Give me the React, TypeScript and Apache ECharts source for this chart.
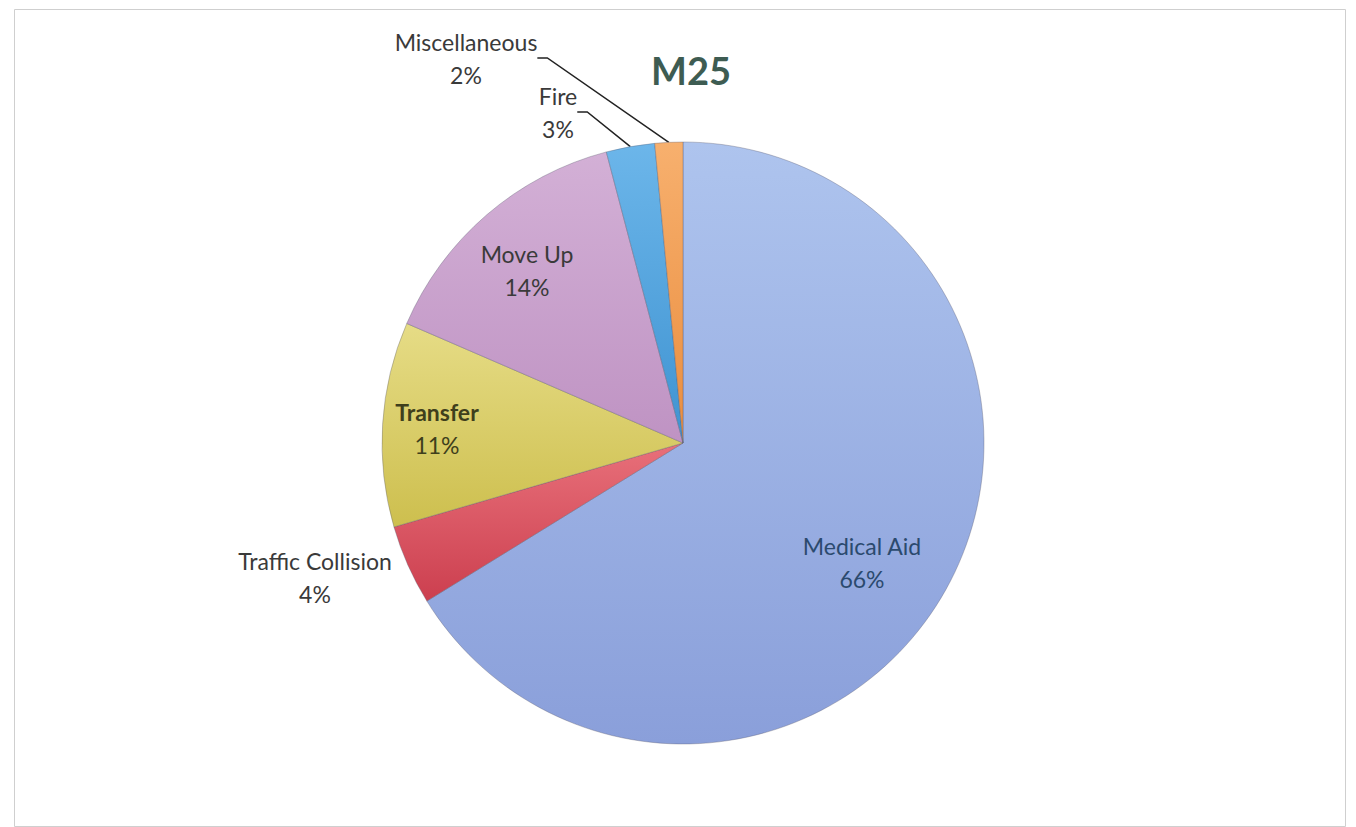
import React, { useEffect, useRef } from "react";
import * as echarts from "echarts";

const categories = ["Medical Aid", "Traffic Collision", "Transfer", "Move Up", "Fire", "Miscellaneous"];
const values = [66.2, 4.3, 11.0, 14.4, 2.6, 1.5];
const percentLabels = ["66%", "4%", "11%", "14%", "3%", "2%"];
const titleText = "M25";

const colorStops: [string, string][] = [
  ["#aec4ee", "#8a9fda"],
  ["#e8707a", "#cc3f4f"],
  ["#e6dc86", "#cdbf4e"],
  ["#d3b0d6", "#bf93c3"],
  ["#6cb6ea", "#3f93d1"],
  ["#f7b06e", "#ea8d3e"],
];
const labelColors = ["#2b4a6e", "#3a3a3a", "#3f3f1c", "#3a3a3a", "#3a3a3a", "#3a3a3a"];
const nameBold = [false, false, true, false, false, false];
const labelInside = [true, false, true, true, false, false];
const showLine = [false, false, false, false, true, true];
const labelPos: Record<string, [number, number]> = {
  "Medical Aid": [862, 562],
  "Traffic Collision": [315, 577],
  "Transfer": [437, 428],
  "Move Up": [527, 270],
  "Fire": [558, 112],
  "Miscellaneous": [466, 58],
};

const FONT = "Lato, 'Open Sans', sans-serif";

export default function App() {
  const ref = useRef<HTMLDivElement>(null);
  useEffect(() => {
    if (!ref.current) return;
    const chart = echarts.init(ref.current, null, { renderer: "svg" });
    const data = categories.map((name, i) => ({
      name,
      value: values[i],
      itemStyle: {
        color: new echarts.graphic.LinearGradient(0, 0, 0, 1, [
          { offset: 0, color: colorStops[i][0] },
          { offset: 1, color: colorStops[i][1] },
        ]),
      },
      label: {
        show: true,
        position: labelInside[i] ? "inside" : "outside",
        formatter: () => `{n|${name}}\n{p|${percentLabels[i]}}`,
        align: "center",
        rich: {
          n: {
            color: labelColors[i],
            fontWeight: nameBold[i] ? "bold" : "normal",
            fontFamily: FONT,
            fontSize: 23,
            lineHeight: 33,
            align: "center",
          },
          p: {
            color: labelColors[i],
            fontWeight: "normal",
            fontFamily: FONT,
            fontSize: 23,
            lineHeight: 33,
            align: "center",
          },
        },
      },
      labelLine: {
        show: showLine[i],
        lineStyle: { color: "#222", width: 1.5 },
      },
    }));
    chart.setOption({
      animation: false,
      backgroundColor: "#ffffff",
      title: {
        text: titleText,
        left: 686,
        top: 46,
        textAlign: "center",
        textStyle: {
          fontFamily: FONT,
          fontSize: 38,
          fontWeight: "bold",
          color: "#3e5c52",
        },
      },
      graphic: [
        {
          type: "rect",
          shape: { x: 14.5, y: 9.5, width: 1331, height: 817 },
          style: { fill: "none", stroke: "#cfcfcf", lineWidth: 1 },
          silent: true,
        },
      ],
      series: [
        {
          type: "pie",
          center: [683, 443],
          radius: [0, 301],
          startAngle: 90,
          clockwise: true,
          avoidLabelOverlap: false,
          itemStyle: { borderColor: "rgba(90,90,110,0.35)", borderWidth: 1 },
          label: { show: true },
          labelLine: { show: true, length: 10, length2: 10 },
          labelLayout: (params: any) => {
            const p = labelPos[categories[params.dataIndex]];
            if (!p) return {};
            return { x: p[0], y: p[1], align: "center", verticalAlign: "middle" };
          },
          data,
        },
      ],
    });
    return () => chart.dispose();
  }, []);
  return (
    <div
      ref={ref}
      style={{ position: "fixed", left: 0, top: 0, width: 1356, height: 827 }}
    />
  );
}
